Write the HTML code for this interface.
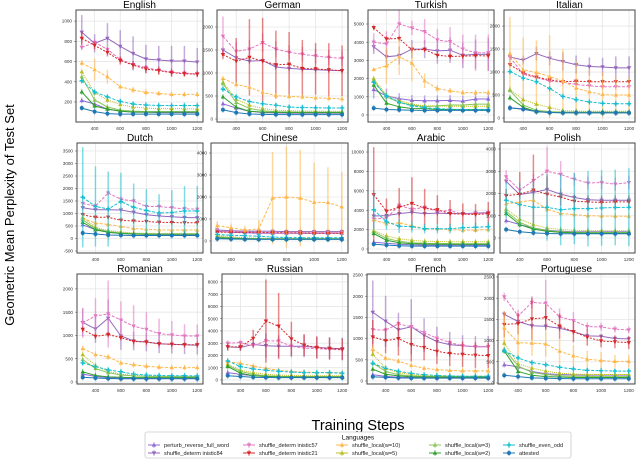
<!DOCTYPE html>
<html><head><meta charset="utf-8"><style>
body{margin:0;background:#fff;font-family:"Liberation Sans","DejaVu Sans",sans-serif}
svg{display:block}
</style></head><body>
<svg id="fig" width="640" height="459" viewBox="0 0 640 459" xmlns="http://www.w3.org/2000/svg">
<text x="14" y="215" font-size="13" text-anchor="middle" transform="rotate(-90 14 215)" fill="#000">Geometric Mean Perplexity of Test Set</text>
<text x="358" y="430" font-size="14.5" text-anchor="middle" fill="#000">Training Steps</text>
<g id="legend"></g>
</svg>
<script>
const steps=[300,400,500,600,700,800,900,1000,1100,1200];
const xTicks=[400,600,800,1000,1200];
const seriesNames=["perturb_reverse_full_word","shuffle_determ inistic84","shuffle_determ inistic57","shuffle_determ inistic21","shuffle_local(w=10)","shuffle_local(w=5)","shuffle_local(w=3)","shuffle_local(w=2)","shuffle_even_odd","attested"];
const languages=["English","German","Turkish","Italian","Dutch","Chinese","Arabic","Polish","Romanian","Russian","French","Portuguese"];
const yTicksEnglish=[200,400,600,800,1000];
const yTicksGerman=[0,500,1000,1500,2000];
const yTicksTurkish=[0,1000,2000,3000,4000,5000];
const yTicksItalian=[0,500,1000,1500,2000];
const yTicksDutch=[-500,0,500,1000,1500,2000,2500,3000,3500];
const yTicksChinese=[0,1000,2000,3000,4000];
const yTicksArabic=[0,2000,4000,6000,8000,10000];
const yTicksPolish=[0,1000,2000,3000,4000];
const yTicksRomanian=[0,500,1000,1500,2000];
const yTicksRussian=[0,1000,2000,3000,4000,5000,6000,7000,8000];
const yTicksFrench=[0,500,1000,1500,2000,2500];
const yTicksPortuguese=[0,500,1000,1500,2000,2500];
const yLimEnglish=[2,1110],yLimGerman=[-65,2370],yLimTurkish=[-385,5770],yLimItalian=[-87,2350],yLimDutch=[-580,3820],yLimChinese=[-545,4455],yLimArabic=[-410,10930],yLimPolish=[-675,4270],yLimRomanian=[-43,2320],yLimRussian=[-330,8650],yLimFrench=[-70,2524],yLimPortuguese=[-24,2570];

const valuesEnglish=[[215,180,130,110,100,100,95,95,95,95],[890,780,830,750,680,625,615,605,605,595],[740,790,720,620,570,540,515,495,485,480],[830,760,690,610,565,525,510,490,480,475],[585,520,450,350,320,295,285,275,275,275],[500,290,220,175,150,140,135,135,135,130],[450,220,150,120,110,105,105,105,105,105],[300,160,130,110,100,100,100,100,100,100],[410,300,250,205,180,170,165,165,165,165],[140,105,85,80,80,80,80,80,80,80]];
const valuesGerman=[[330,240,170,140,130,125,125,125,125,125],[1500,1330,1260,1270,1130,1100,1080,1070,1060,1050],[1800,1470,1520,1660,1520,1450,1410,1370,1340,1320],[1400,1260,1340,1260,1180,1190,1100,1090,1070,1050],[880,750,690,580,510,490,480,460,450,440],[800,430,300,230,190,180,175,170,170,165],[770,360,230,180,160,155,150,150,150,150],[480,260,170,150,145,140,140,140,140,140],[650,480,380,330,300,260,250,245,240,240],[200,140,110,100,95,95,95,95,95,95]];
const valuesTurkish=[[1400,1050,900,800,780,780,800,760,880,880],[3750,3200,3270,3620,3620,3520,3560,3280,3340,3330],[4000,3900,5000,4780,4580,4120,4030,3620,3420,3420],[4800,4180,4200,3580,3600,3280,3220,3230,3260,3250],[2500,2700,3200,2850,1880,1450,1330,1230,1230,1230],[2000,1100,800,600,500,500,480,480,480,480],[1900,1000,700,550,450,500,550,550,600,600],[1650,650,450,350,350,300,300,300,300,300],[1800,1050,700,500,400,350,320,300,300,300],[380,300,280,260,250,250,250,250,250,250]];
const valuesItalian=[[220,200,150,130,120,115,115,110,110,110],[1330,1260,1400,1300,1230,1160,1120,1110,1090,1090],[1320,950,880,800,780,730,700,680,680,680],[1160,980,890,830,790,800,790,790,790,790],[1400,1050,990,900,800,650,570,510,500,500],[620,400,300,230,160,150,145,145,145,145],[600,280,170,140,130,130,130,130,130,130],[440,230,140,120,115,115,115,115,115,115],[1010,870,790,640,470,400,350,320,310,310],[220,190,140,120,115,115,115,115,115,115]];
const valuesDutch=[[550,350,250,200,180,170,170,170,170,170],[1230,1150,1150,1140,1050,950,900,870,840,830],[1400,1300,1820,1570,1500,1280,1280,1230,1190,1170],[950,850,850,730,700,680,650,640,630,630],[800,620,560,480,400,370,350,340,340,340],[850,450,320,260,220,210,200,200,200,200],[750,400,280,220,200,190,180,180,180,180],[650,350,250,200,180,170,170,170,170,170],[1650,1280,1180,1480,1250,1120,1020,1040,1100,1100],[220,180,140,130,120,120,120,120,120,120]];
const valuesChinese=[[450,400,380,350,350,350,350,350,350,350],[500,470,450,450,440,430,430,430,430,430],[450,420,420,380,380,380,380,380,380,380],[400,400,400,400,380,370,360,350,350,350],[700,600,500,550,1950,2000,1950,1760,1750,1550],[250,200,150,130,120,120,120,120,120,120],[200,150,120,110,100,100,100,100,100,100],[150,120,100,90,90,90,90,90,90,90],[300,260,240,220,180,160,150,150,150,150],[100,90,80,75,75,75,75,75,75,75]];
const valuesArabic=[[700,600,500,450,400,400,400,400,400,400],[3400,3450,3650,3800,3650,3700,3650,3650,3700,3750],[3100,3200,4500,4100,4300,3900,3950,3600,3650,3700],[5600,3900,4300,4700,4200,4050,3650,3600,3550,3650],[3000,2600,2700,2400,2100,2100,2000,1950,1950,2000],[1900,1350,1050,900,800,780,760,760,750,750],[1800,1100,800,650,600,580,560,550,550,550],[1600,900,650,550,520,500,500,500,500,500],[4050,2800,2350,2300,2100,2100,2100,2200,2250,2300],[500,400,330,300,300,300,300,300,300,300]];
const valuesPolish=[[780,600,450,350,300,280,280,280,280,280],[2550,1950,2050,2180,1970,1820,1720,1700,1700,1700],[2750,2150,2580,3000,2860,2640,2470,2490,2420,2490],[1900,1970,2150,1970,1840,1650,1620,1600,1620,1620],[1540,1620,1700,1300,1100,1050,1000,990,980,980],[1300,850,600,450,380,350,330,330,330,330],[1200,700,450,330,280,260,250,250,250,250],[1100,600,400,300,250,230,220,220,220,220],[1700,1500,1380,1380,1270,1320,1320,1350,1370,1380],[380,280,230,200,190,190,190,190,190,190]];
const valuesRomanian=[[170,120,90,80,75,75,75,75,75,75],[1280,1140,1370,990,880,860,820,810,800,790],[1270,1420,1460,1330,1200,1130,1040,1010,990,985],[1130,980,1020,950,870,860,820,810,800,800],[720,590,540,410,370,340,320,310,310,310],[590,350,230,170,140,130,125,120,120,120],[480,290,200,150,130,120,115,115,115,115],[220,140,110,100,95,95,95,95,95,95],[410,330,260,220,170,150,140,135,135,130],[100,85,75,70,70,70,70,70,70,70]];
const valuesRussian=[[600,450,350,300,280,270,260,260,260,260],[2700,2650,2900,2800,2750,2750,2750,2650,2600,2550],[3000,3050,2800,3200,3180,2750,2600,2550,2500,2450],[2700,2700,3400,4800,4400,3350,2850,2650,2550,2500],[1500,1350,1150,950,800,700,650,600,600,600],[1300,800,600,450,400,380,350,350,350,350],[1200,700,450,350,300,280,270,270,270,270],[1100,550,350,280,250,240,240,240,240,240],[1550,1100,900,800,700,650,600,600,600,550],[350,280,220,200,190,190,190,190,190,190]];
const valuesFrench=[[150,110,90,85,80,80,80,80,80,80],[1620,1410,1210,1280,1080,930,860,830,810,810],[1210,1200,1350,1280,1140,1010,910,830,810,810],[1040,950,1000,860,790,700,650,630,610,600],[750,540,470,370,300,270,250,240,240,240],[630,300,200,150,130,120,115,115,115,115],[420,230,150,120,110,105,100,100,100,100],[280,160,120,100,95,95,95,95,95,95],[420,300,230,180,150,130,120,115,115,115],[100,85,75,70,70,70,70,70,70,70]];
const valuesPortuguese=[[430,380,270,220,200,190,185,185,185,185],[1620,1450,1350,1340,1290,1210,1110,1100,1050,1040],[2030,1580,1900,1880,1560,1470,1330,1320,1270,1250],[1380,1400,1510,1540,1340,1210,1080,990,970,950],[1300,950,940,920,750,640,560,530,510,510],[940,450,350,280,230,210,200,200,200,200],[800,400,250,200,170,160,155,150,150,150],[760,270,180,150,140,130,130,130,130,130],[760,590,480,430,370,330,300,290,280,280],[180,150,120,110,105,100,100,100,100,100]];

const errEnglish={1:[170,90,150,160,170,140,140,150,150,140],4:[30,110,70,20,30,30,25,25,25,25],3:[60,40,40,40,40,40,40,40,30,30]};
const errGerman={3:[100,500,830,940,740,700,620,560,580,550],2:[430,200,200,200,180,160,160,160,160,160]};
const errTurkish={1:[400,400,500,500,500,700,700,700,800,900],2:[500,700,800,400,700,600,800,800,1000,1000],4:[100,1000,1000,1000,400,200,150,150,150,150],0:[500,400,300,300,300,300,300,300,300,300]};
const errItalian={4:[800,700,700,900,700,600,500,500,400,400],1:[100,100,150,150,200,200,200,200,250,250]};
const errDutch={8:[2000,1600,1500,1150,950,850,750,900,1000,1000]};
const errChinese={4:[200,200,200,400,2100,2300,2200,1800,1600,1600]};
const errArabic={3:[4900,1300,2000,2700,2000,1500,1400,1100,1100,1200],8:[2000,800,700,600,500,500,500,500,500,500]};
const errPolish={8:[800,1000,1200,1500,1600,1600,1700,1700,1700,1750],3:[300,1000,1600,800,400,300,300,300,300,300],2:[300,300,300,1100,600,300,300,300,300,300]};
const errRomanian={2:[320,380,720,400,450,370,320,300,250,250],1:[300,300,400,300,200,200,200,200,200,200]};
const errRussian={3:[300,300,700,3400,2700,1400,900,900,900,900],1:[300,300,300,1000,900,900,900,900,900,900]};
const errFrench={1:[750,600,400,650,400,350,300,250,250,250],3:[400,300,400,400,300,300,300,300,300,300]};
const errPortuguese={2:[100,150,150,550,200,200,100,100,80,80],3:[300,250,500,300,300,250,200,150,150,150],4:[400,400,300,300,300,250,200,200,150,150]};

const panelValues=[valuesEnglish,valuesGerman,valuesTurkish,valuesItalian,valuesDutch,valuesChinese,valuesArabic,valuesPolish,valuesRomanian,valuesRussian,valuesFrench,valuesPortuguese];
const panelErr=[errEnglish,errGerman,errTurkish,errItalian,errDutch,errChinese,errArabic,errPolish,errRomanian,errRussian,errFrench,errPortuguese];
const panelTicks=[yTicksEnglish,yTicksGerman,yTicksTurkish,yTicksItalian,yTicksDutch,yTicksChinese,yTicksArabic,yTicksPolish,yTicksRomanian,yTicksRussian,yTicksFrench,yTicksPortuguese];
const panelYLim=[yLimEnglish,yLimGerman,yLimTurkish,yLimItalian,yLimDutch,yLimChinese,yLimArabic,yLimPolish,yLimRomanian,yLimRussian,yLimFrench,yLimPortuguese];
// layout boxes (not data)
const boxes=[[76,10,203,122],[217,10,348,122],[368,10,494,122],[504,10,635,122],
[77,143,203,253],[211,143,348,253],[368,143,494,253],[500,143,635,253],
[77,274,203,384],[222,274,348,384],[367,274,494,384],[498,274,635,384]];
const colors=["#8e6bd6","#9467bd","#e377c2","#d62728","#ffb84d","#bcbd22","#8cc65a","#2ca02c","#17becf","#1f77b4"];
const dashes=["","","3,1.5","2,1.5","3,1.5","1,1","","","3,1.5",""];
const markers=["tri","tridown","tridown","tridown","tri","tri","tri","tri","plus","circle"];
const NS="http://www.w3.org/2000/svg";
const fig=document.getElementById('fig');
function mk(tag,attrs,parent){const e=document.createElementNS(NS,tag);for(const k in attrs)e.setAttribute(k,attrs[k]);parent.appendChild(e);return e;}
function marker(g,type,x,y,c){
  if(type==="circle") return mk('circle',{cx:x,cy:y,r:2,fill:c},g);
  if(type==="tri") return mk('path',{d:`M${x},${y-2.3}L${x+2.2},${y+1.6}L${x-2.2},${y+1.6}Z`,fill:c},g);
  if(type==="tridown") return mk('path',{d:`M${x},${y+2.3}L${x+2.2},${y-1.6}L${x-2.2},${y-1.6}Z`,fill:c},g);
  return mk('path',{d:`M${x-2.2},${y}H${x+2.2}M${x},${y-2.2}V${y+2.2}`,stroke:c,'stroke-width':1.4},g);
}
languages.forEach((lang,p)=>{
  const [x0,y0,x1,y1]=boxes[p];
  const [ymin,ymax]=panelYLim[p];
  const sx=v=>x0+(v-255)/(1245-255)*(x1-x0);
  const sy=v=>y1-(v-ymin)/(ymax-ymin)*(y1-y0);
  const g=mk('g',{},fig);
  
  
  const t=mk('text',{x:(x0+x1)/2,y:y0-2,'font-size':10,'text-anchor':'middle',fill:'#000'},g);
  t.textContent=lang;
  
  
  xTicks.forEach(v=>{
    mk('line',{x1:sx(v),x2:sx(v),y1:y0,y2:y1,stroke:'#e6e6e6','stroke-width':0.8},g);
    const tt=mk('text',{x:sx(v),y:y1+8,'font-size':4.6,'text-anchor':'middle',fill:'#333'},g);
    tt.textContent=v;
    
    
  });
  panelTicks[p].forEach(v=>{
    mk('line',{x1:x0,x2:x1,y1:sy(v),y2:sy(v),stroke:'#e6e6e6','stroke-width':0.8},g);
    mk('line',{x1:x0-2,x2:x0,y1:sy(v),y2:sy(v),stroke:'#555','stroke-width':0.5},g);
    const tt=mk('text',{x:x0-4,y:sy(v)+1.6,'font-size':4.6,'text-anchor':'end',fill:'#333'},g);
    tt.textContent=v;
    
    
  });
  const vals=panelValues[p],errs=panelErr[p];
  vals.forEach((series,s)=>{
    const c=colors[s];
    const sg=mk('g',{},g);
    
    
    const e=errs[s];
    if(e){series.forEach((v,i)=>{mk('line',{x1:sx(steps[i]),x2:sx(steps[i]),y1:Math.max(y0,sy(v+e[i])),y2:Math.min(y1,sy(v-e[i])),stroke:c,'stroke-width':1.5,opacity:0.55},sg);});}
    else{series.forEach((v,i)=>{mk('line',{x1:sx(steps[i]),x2:sx(steps[i]),y1:sy(v)-3,y2:sy(v)+3,stroke:c,'stroke-width':1.2,opacity:0.45},sg);});}
    const d=series.map((v,i)=>(i?'L':'M')+sx(steps[i]).toFixed(1)+','+sy(v).toFixed(1)).join('');
    const l=mk('path',{d:d,fill:'none',stroke:c,'stroke-width':1,'stroke-dasharray':dashes[s]},sg);
    series.forEach((v,i)=>{marker(sg,markers[s],sx(steps[i]),sy(v),c);});
  });
  mk('rect',{x:x0,y:y0,width:x1-x0,height:y1-y0,fill:'none',stroke:'#444','stroke-width':1},g);
});
// legend
const lg=document.getElementById('legend');
mk('rect',{x:145,y:432,width:426,height:26,rx:2,fill:'#fff',stroke:'#ccc','stroke-width':0.8},lg);
const lt=mk('text',{x:358,y:439.5,'font-size':6.5,'text-anchor':'middle',fill:'#000'},lg);
lt.textContent='Languages';
const colX=[148,243,336,429,503];
seriesNames.forEach((n,s)=>{
  const cx=colX[Math.floor(s/2)],cy=s%2?453:445;
  const eg=mk('g',{},lg);
  
  
  mk('line',{x1:cx,x2:cx+12,y1:cy,y2:cy,stroke:colors[s],'stroke-width':1},eg);
  mk('line',{x1:cx+6,x2:cx+6,y1:cy-3,y2:cy+3,stroke:colors[s],'stroke-width':1,opacity:0.6},eg);
  marker(eg,markers[s],cx+6,cy,colors[s]);
  const tx=mk('text',{x:cx+16,y:cy+2,'font-size':5.6,fill:'#222'},eg);
  tx.textContent=n;
});
</script>
</body></html>
